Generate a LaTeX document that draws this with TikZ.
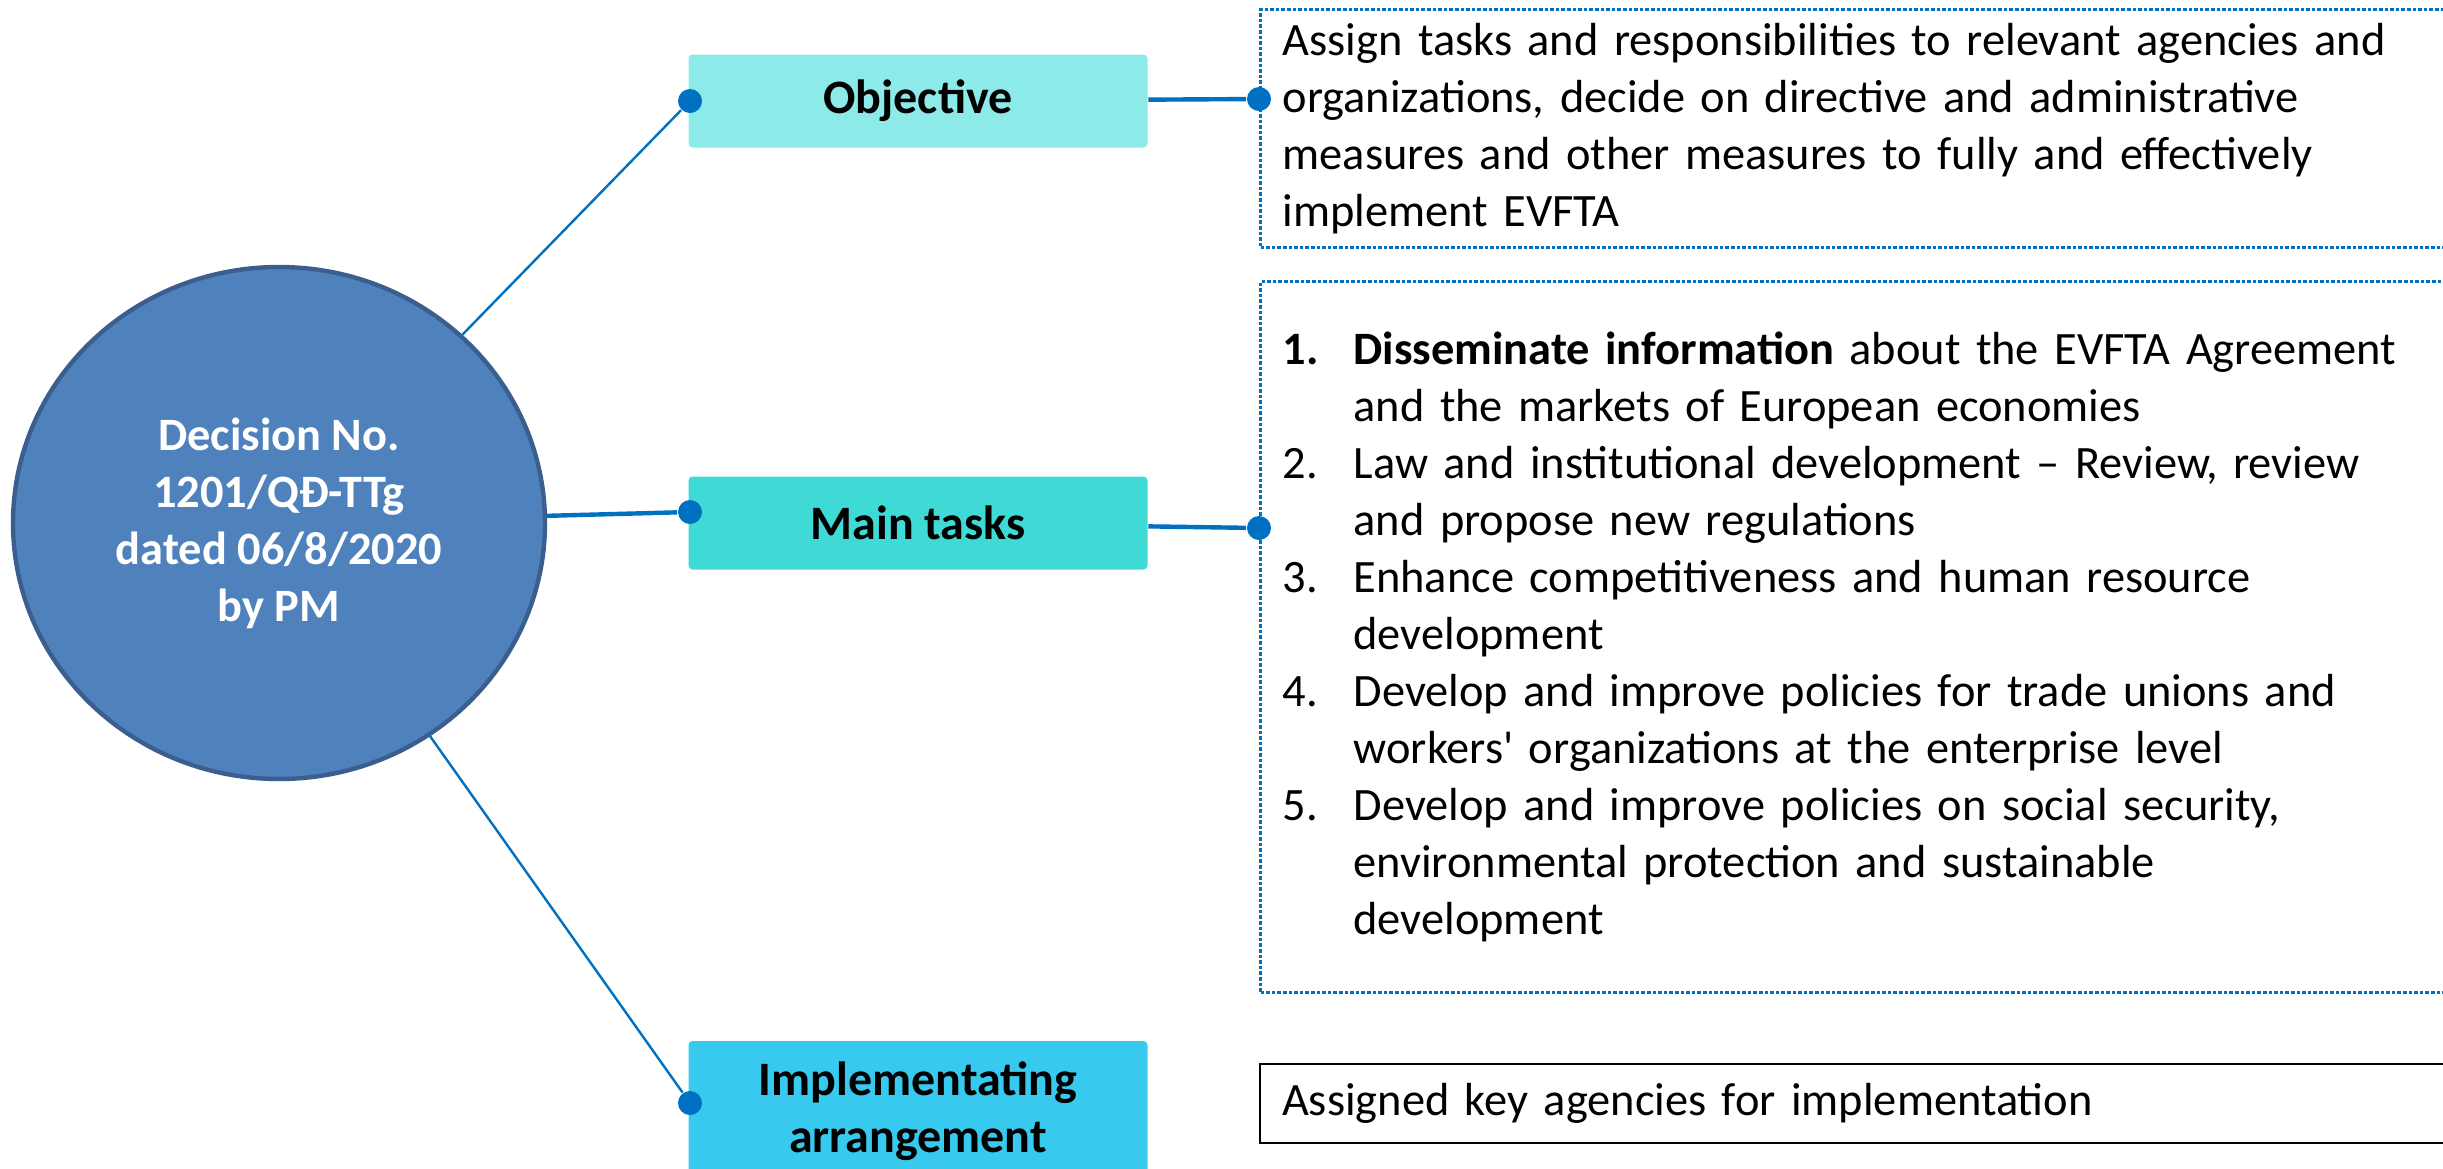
\documentclass[tikz,border=0pt]{standalone}
\usepackage{fontspec}
\setmainfont{Carlito}
\usetikzlibrary{shapes.geometric}

\definecolor{linkblue}{HTML}{0070C0}
\definecolor{decisionfill}{HTML}{4F81BD}
\definecolor{decisionline}{HTML}{3A5F8E}
\definecolor{objfill}{HTML}{8CEAE8}
\definecolor{taskfill}{HTML}{3FD9D6}
\definecolor{implfill}{HTML}{38C9EF}

\newcommand\maptextstyle{\fontsize{11.6}{14.25}\selectfont}
\newcommand\mapheadstyle{\fontsize{12}{14.25}\selectfont\bfseries}
\newcommand\taskindent{17.75pt}
\newcommand\tasknum[1]{\makebox[\taskindent][l]{#1}}
\newcommand\taskcont{\hspace*{\taskindent}}

\tikzset{
  decision/.style={ellipse, draw=decisionline, line width=1.1pt, fill=decisionfill,
    minimum width=133pt, minimum height=128pt, inner sep=0pt, align=center,
    text=white, font=\maptextstyle\bfseries},
  headbox/.style={rounded corners=1pt, minimum width=114.75pt, minimum height=23.25pt,
    align=center, font=\mapheadstyle},
  notebox/.style={draw=linkblue, line width=0.8pt, dash pattern=on 0.9pt off 0.5pt,
    anchor=north west, minimum width=310pt, text width=299pt, inner xsep=5.5pt,
    align=left, font=\maptextstyle},
  dot/.style={circle, fill=linkblue, minimum size=6pt, inner sep=0pt},
  link/.style={draw=linkblue, line width=0.6pt},
  thicklink/.style={draw=linkblue, line width=1.1pt}
}

\begin{document}
\begin{tikzpicture}[x=0.25pt, y=-0.25pt]
    \useasboundingbox (0,0) rectangle (2443,1168);
    \node[decision] (decision) at (279,523) {Decision No.\\1201/QĐ-TTg\\dated 06/8/2020\\by PM};
    \node[headbox, fill=objfill] (objective) at (918,101) {Objective};
    \node[headbox, fill=taskfill] (tasks) at (918,523) {Main tasks};
    \node[headbox, fill=implfill, minimum height=35pt] (impl) at (918,1111) {Implementating\\arrangement};
    \node[notebox, minimum height=59.5pt] (objnote) at (1259,8)
      {Assign tasks and responsibilities to relevant agencies and\\
       organizations, decide on directive and administrative\\
       measures and other measures to fully and effectively\\
       implement EVFTA};
    \node[notebox, minimum height=177.75pt] (tasknote) at (1259,280)
      {\tasknum{\textbf{1.}}\textbf{Disseminate information} about the EVFTA Agreement\\
       \taskcont and the markets of European economies\\
       \tasknum{2.}Law and institutional development – Review, review\\
       \taskcont and propose new regulations\\
       \tasknum{3.}Enhance competitiveness and human resource\\
       \taskcont development\\
       \tasknum{4.}Develop and improve policies for trade unions and\\
       \taskcont workers\textquotesingle{} organizations at the enterprise level\\
       \tasknum{5.}Develop and improve policies on social security,\\
       \taskcont environmental protection and sustainable\\
       \taskcont development};
    \node[notebox, draw=black, solid, line width=0.5pt, minimum height=19.75pt] (implnote) at (1259,1063)
      {Assigned key agencies for implementation};
    \node[dot] (objdotl) at (690,101) {};
    \node[dot] (objdotr) at (1259,99) {};
    \node[dot] (taskdotl) at (690,512) {};
    \node[dot] (taskdotr) at (1259,528) {};
    \node[dot] (impldotl) at (690,1103) {};
    \draw[link] (decision) -- (objdotl);
    \draw[thicklink] (decision) -- (taskdotl);
    \draw[link] (decision) -- (impldotl);
    \draw[thicklink] (objective) -- (objdotr);
    \draw[thicklink] (tasks) -- (taskdotr);
\end{tikzpicture}
\end{document}
